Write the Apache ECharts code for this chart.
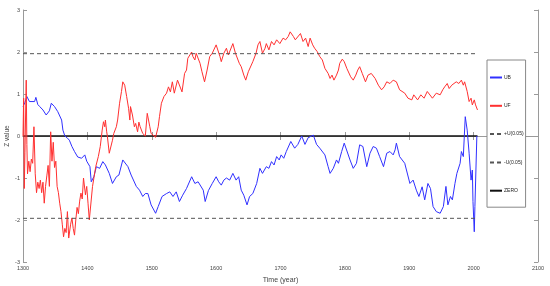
<!DOCTYPE html>
<html>
<head>
<meta charset="utf-8">
<script src="https://cdn.jsdelivr.net/npm/echarts@6/dist/echarts.min.js"></script>
<style>
  html, body { margin: 0; padding: 0; background: #fff; }
  #chart { width: 550px; height: 286px; }
</style>
</head>
<body>
<div id="chart"></div>
<script>
// UF (forward statistic)
const ufYears = [1300, 1301, 1302, 1303, 1305, 1306, 1307, 1309, 1311, 1313, 1315, 1317, 1319, 1321, 1323, 1325, 1327, 1329, 1331, 1333, 1335, 1337, 1339, 1341, 1343, 1345, 1347, 1349, 1351, 1353, 1355, 1357, 1359, 1361, 1363, 1365, 1367, 1369, 1371, 1374, 1376, 1378, 1380, 1382, 1384, 1386, 1388, 1390, 1392, 1394, 1397, 1399, 1401, 1403, 1405,
  1408, 1413, 1417, 1420, 1423, 1425, 1427, 1428, 1430, 1431, 1434, 1436, 1439, 1441, 1445, 1447, 1450, 1453, 1455, 1458, 1461, 1464, 1466, 1467, 1470, 1473, 1475, 1478, 1480, 1482, 1486, 1490, 1493, 1497, 1499, 1502, 1506, 1510, 1512, 1515, 1519, 1523, 1526, 1529, 1532, 1535, 1540, 1543, 1547, 1551, 1554, 1556, 1562, 1564, 1567, 1569, 1575, 1578, 1582, 1586, 1590, 1594, 1597, 1600, 1606, 1608, 1612, 1616, 1619, 1626,
  1627, 1630, 1633, 1636, 1639, 1643, 1646, 1650, 1653, 1657, 1662, 1665, 1668, 1672, 1676, 1678, 1682, 1686, 1690, 1694, 1699, 1704, 1708, 1712, 1715, 1720, 1723, 1725, 1731, 1735, 1739, 1743, 1746, 1750, 1753, 1757, 1761, 1765, 1769, 1774, 1777, 1780, 1783, 1787, 1790, 1792, 1796, 1799, 1803, 1809, 1813, 1817, 1820, 1823, 1827, 1832, 1836, 1841, 1847, 1852, 1857, 1861, 1865, 1870, 1875, 1880, 1885, 1888, 1893, 1898, 1904, 1907, 1913, 1918, 1923, 1928, 1936, 1942, 1948, 1952, 1955, 1959, 1962, 1966, 1969, 1973, 1977, 1981, 1984, 1986, 1990, 1993, 1996, 1998, 2001, 2003, 2006];
const ufValues = [0, 0.9, -1.25, -0.4, 1.33, -0.2, -0.9, -0.6, -0.85, -0.55, -0.65, 0.22, -0.9, -1.35, -1.1, -1.25, -1.05, -1.35, -1.1, -1.6, -1.2, -0.95, -0.7, -1.2, 0.1, -0.6, -0.15, -0.75, -0.6, -1.2, -1.35, -1.6, -1.8, -2.1, -2.4, -2.2, -2.3, -1.8, -2.43, -2.1, -1.95, -2.2, -2.36, -2.0, -1.7, -1.85, -1.55, -1.36, -1.5, -1.0, -1.4, -1.2, -1.6, -2.0, -1.98,
  -1.2, -0.73, -0.49, -0.25, 0.14, 0.34, 0.22, 0.38, 0.1, 0.0, -0.41, -0.45, -0.1, 0.06, 0.22, 0.38, 0.78, 1.06, 1.29, 1.21, 0.94, 0.66, 0.38, 0.7, 0.5, 0.22, 0.3, 0.1, 0.33, 0.22, 0.06, 0.0, 0.54, 0.22, 0.06, 0.1, -0.03, 0.22, 0.46, 0.78, 0.94, 1.02, 1.17, 1.05, 1.29, 1.02, 1.33, 1.37, 1.05, 1.49, 1.57, 1.85, 2.0, 1.89, 1.81, 1.97, 1.73, 1.53, 1.29, 1.57, 1.89, 1.97, 2.0, 2.17, 1.89, 1.77, 1.97, 2.09, 1.93, 2.2,
  2.17, 1.97, 2.01, 1.73, 1.65, 1.45, 1.33, 1.53, 1.57, 1.77, 1.97, 2.17, 2.25, 1.97, 2.09, 2.2, 2.05, 2.25, 2.17, 2.29, 2.2, 2.33, 2.29, 2.37, 2.48, 2.37, 2.29, 2.33, 2.44, 2.25, 2.33, 2.13, 2.33, 2.17, 2.09, 2.01, 1.89, 1.81, 1.61, 1.49, 1.37, 1.45, 1.33, 1.45, 1.57, 1.73, 1.83, 1.77, 1.61, 1.41, 1.33, 1.45, 1.57, 1.65, 1.49, 1.29, 1.45, 1.49, 1.37, 1.21, 1.1, 1.17, 1.29, 1.25, 1.33, 1.29, 1.1, 1.14, 1.02, 0.9, 0.86, 0.98, 0.86, 0.98, 0.9, 1.06, 0.9, 1.02, 0.98, 1.1, 1.17, 1.25, 1.13, 1.21, 1.17, 1.29, 1.25, 1.33, 1.21, 1.29, 1.06, 0.82, 0.9, 0.74, 0.86, 0.74, 0.62];

// UB (backward statistic)
const ubYears = [1300, 1303, 1306, 1310, 1313, 1318, 1320, 1323, 1326, 1331, 1336, 1341, 1344, 1349, 1354, 1360, 1362, 1365, 1369, 1372, 1376, 1380, 1385, 1391, 1396, 1399, 1404, 1406, 1410, 1414, 1419, 1424, 1428, 1434, 1439, 1445, 1449, 1455, 1458,
  1463, 1468, 1471, 1476, 1481, 1486, 1490, 1494, 1499, 1506, 1510, 1516, 1523, 1528, 1533, 1538, 1543, 1548, 1554, 1562, 1567, 1572, 1580, 1583, 1588, 1594, 1600, 1604, 1608, 1612, 1616, 1621, 1626, 1631, 1635, 1639, 1643, 1648, 1652, 1657, 1663, 1668, 1672, 1678, 1682, 1686, 1690, 1694, 1698, 1701, 1705, 1709, 1716, 1722, 1727, 1733, 1738, 1743, 1751, 1756, 1761, 1769, 1774, 1777, 1782, 1787,
  1790, 1795, 1799, 1802, 1808, 1813, 1818, 1823, 1828, 1834, 1839, 1844, 1849, 1854, 1860, 1865, 1870, 1875, 1878, 1880, 1885, 1893, 1901, 1906, 1911, 1915, 1920, 1924, 1929, 1933, 1937, 1942, 1948, 1953, 1957, 1960, 1964, 1967, 1971, 1974, 1979, 1981, 1984, 1987, 1990, 1993, 1996, 1998, 1999, 2001, 2002, 2005];
const ubValues = [0.7, 0.8, 0.94, 0.82, 0.78, 0.82, 0.92, 0.75, 0.7, 0.62, 0.5, 0.6, 0.78, 0.7, 0.58, 0.38, 0.14, 0.0, -0.05, -0.1, -0.25, -0.37, -0.5, -0.53, -0.45, -0.6, -0.73, -1.09, -0.97, -0.73, -0.77, -0.61, -0.69, -0.89, -1.13, -0.97, -0.93, -0.57, -0.53,
  -0.73, -0.93, -0.97, -1.2, -1.29, -1.44, -1.37, -1.37, -1.64, -1.84, -1.68, -1.44, -1.37, -1.33, -1.44, -1.33, -1.56, -1.41, -1.25, -0.97, -1.13, -1.09, -1.29, -1.56, -1.3, -1.13, -0.97, -1.09, -1.17, -1.05, -1.0, -1.05, -0.89, -1.05, -0.97, -1.29, -1.41, -1.64, -1.44, -1.37, -1.13, -0.77, -0.89, -0.73, -0.77, -0.61, -0.69, -0.49, -0.57, -0.45, -0.53, -0.37, -0.13, -0.29, -0.2, 0.0, -0.2, -0.04, 0.02, -0.2, -0.29, -0.45, -0.73, -0.89, -0.77, -0.57,
  -0.65, -0.37, -0.17, -0.21, -0.57, -0.77, -0.65, -0.21, -0.25, -0.73, -0.41, -0.25, -0.29, -0.49, -0.73, -0.41, -0.37, -0.45, -0.33, -0.17, -0.49, -0.65, -1.13, -1.05, -1.29, -1.44, -1.21, -1.52, -1.13, -1.25, -1.68, -1.8, -1.84, -1.68, -1.2, -1.64, -1.44, -1.52, -1.13, -0.89, -0.65, -0.37, -0.49, 0.46, 0.14, -0.41, -1.05, -0.81, -1.56, -2.28, -1.68, 0.0];

const threshold = 1.96;
const lineStart = 1300, lineEnd = 2004;

const pairs = (xs, ys) => xs.map((x, i) => [x, ys[i]]);

const chart = echarts.init(document.getElementById('chart'), null, { renderer: 'canvas' });

const axisColor = '#9a9a9a';
const labelColor = '#444';
const plain = v => String(v);

const option = {
    animation: false,
    backgroundColor: '#fff',
    textStyle: { fontFamily: 'Liberation Sans, Arial, sans-serif' },
    grid: { left: 23, right: 12, top: 10, bottom: 24, containLabel: false, outerBoundsMode: 'none' },
    legend: {
        orient: 'vertical',
        left: 487,
        top: 60,
        width: 38,
        padding: [15, 2, 14, 2],
        itemWidth: 12,
        itemHeight: 6,
        itemGap: 23.3,
        borderColor: '#888',
        borderWidth: 1,
        backgroundColor: '#fff',
        itemStyle: { opacity: 0 },
        textStyle: { fontSize: 5, color: '#222', padding: [0, 0, 0, -3] },
        data: ['UB', 'UF', '+U(0.05)', '-U(0.05)', 'ZERO']
    },
    xAxis: [
        {
            type: 'value', min: 1300, max: 2100, interval: 100,
            name: 'Time (year)', nameLocation: 'middle', nameGap: 15, nameMoveOverlap: false,
            nameTextStyle: { fontSize: 7, color: labelColor },
            axisLine: { show: true, lineStyle: { color: axisColor, width: 1 } },
            axisTick: { inside: true, length: 4, lineStyle: { color: axisColor } },
            axisLabel: { fontSize: 5.5, color: labelColor, margin: 3, formatter: plain },
            splitLine: { show: false }
        },
        {
            type: 'value', position: 'top', min: 1300, max: 2100, interval: 100,
            axisLine: { show: true, lineStyle: { color: axisColor, width: 1 } },
            axisTick: { inside: true, length: 4, lineStyle: { color: axisColor } },
            axisLabel: { show: false },
            splitLine: { show: false }
        }
    ],
    yAxis: [
        {
            type: 'value', min: -3, max: 3, interval: 1,
            name: 'Z value', nameLocation: 'middle', nameGap: 12, nameMoveOverlap: false,
            nameTextStyle: { fontSize: 6.5, color: labelColor },
            axisLine: { show: true, lineStyle: { color: axisColor, width: 1 } },
            axisTick: { show: true, inside: true, length: 4, lineStyle: { color: axisColor } },
            axisLabel: { fontSize: 5.5, color: labelColor, margin: 3, formatter: plain },
            splitLine: { show: false }
        },
        {
            type: 'value', position: 'right', min: -3, max: 3, interval: 1,
            axisLine: { show: true, lineStyle: { color: axisColor, width: 1 } },
            axisTick: { show: true, inside: true, length: 4, lineStyle: { color: axisColor } },
            axisLabel: { show: false },
            splitLine: { show: false }
        }
    ],
    series: [
        {
            name: 'UB', type: 'line', symbol: 'none', z: 3,
            data: pairs(ubYears, ubValues),
            lineStyle: { color: '#3030ff', width: 1 },
            itemStyle: { color: '#3030ff' }
        },
        {
            name: 'UF', type: 'line', symbol: 'none', z: 3,
            data: pairs(ufYears, ufValues),
            lineStyle: { color: '#ff3030', width: 1 },
            itemStyle: { color: '#ff3030' }
        },
        {
            name: '+U(0.05)', type: 'line', symbol: 'none',
            data: [[lineStart, threshold], [lineEnd, threshold]],
            lineStyle: { color: '#555', width: 1, type: [4, 3] },
            itemStyle: { color: '#555' }
        },
        {
            name: '-U(0.05)', type: 'line', symbol: 'none',
            data: [[lineStart, -threshold], [lineEnd, -threshold]],
            lineStyle: { color: '#555', width: 1, type: [4, 3] },
            itemStyle: { color: '#555' }
        },
        {
            name: 'ZERO', type: 'line', symbol: 'none', z: 2,
            data: [[lineStart, 0], [2006, 0]],
            lineStyle: { color: '#111', width: 1.6 },
            itemStyle: { color: '#111' }
        }
    ]
};

chart.setOption(option);
</script>
</body>
</html>
